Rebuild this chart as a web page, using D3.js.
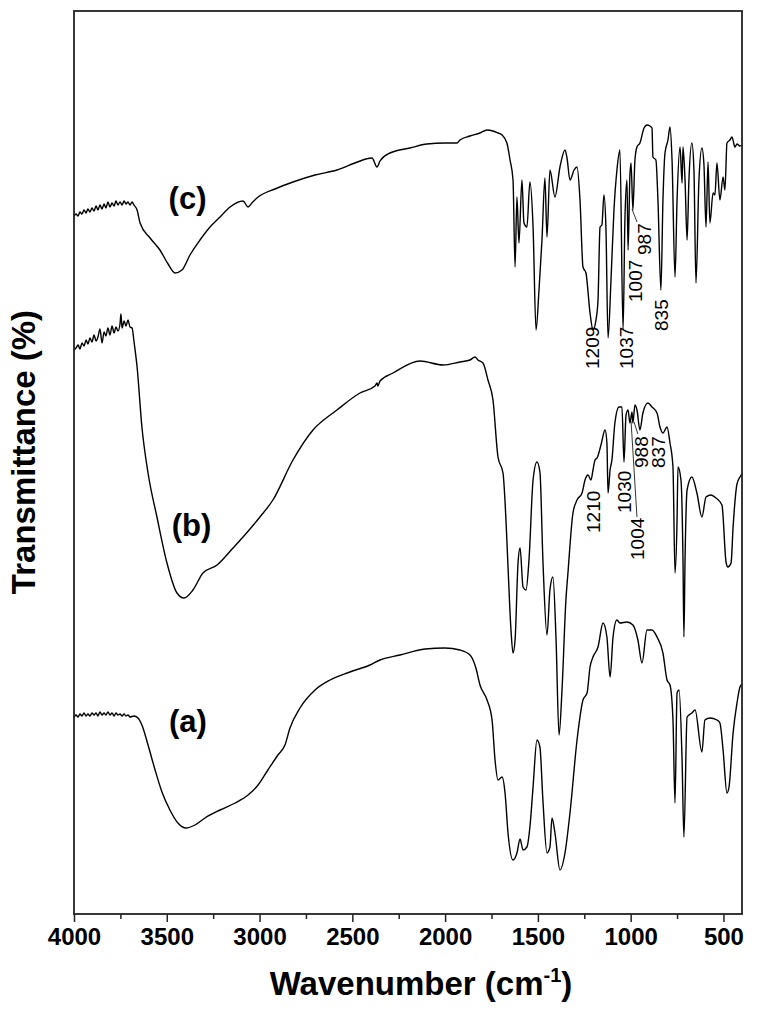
<!DOCTYPE html>
<html>
<head>
<meta charset="utf-8">
<script src="https://cdn.jsdelivr.net/npm/d3@7/dist/d3.min.js"></script>
<style>
	body { margin: 0; background: #fff; }
	text { font-family: "Liberation Sans", Arial, sans-serif; fill: #000; }
</style>
</head>
<body>
<script>
// - data -

var majorTicks = [4000, 3500, 3000, 2500, 2000, 1500, 1000, 500];
var minorTicks = [3750, 3250, 2750, 2250, 1750, 1250, 750];

// [wavenumber (cm-1), transmittance (offset, a.u.)]
var seriesA = [
	[4000,19.7],[3989,19.9],[3978,19.7],[3968,20.0],[3957,19.8],[3946,20.1],[3935,19.8],[3925,20.0],
	[3914,19.8],[3903,20.1],[3892,19.9],[3881,20.1],[3871,19.8],[3860,20.2],[3849,19.9],[3838,20.1],
	[3828,19.9],[3817,20.2],[3806,19.9],[3795,20.1],[3784,19.8],[3774,20.1],[3763,19.9],[3752,20.0],
	[3741,19.8],[3730,20.0],[3720,19.8],[3709,19.9],[3698,19.7],[3677,19.8],[3655,19.6],
	[3634,18.9],[3601,16.9],[3563,14.4],[3526,12.2],
	[3483,10.4],[3440,9.1],[3396,8.6],[3348,8.9],[3294,9.6],[3213,10.4],[3132,11.1],[3062,11.9],
	[3008,12.9],[2955,14.4],[2901,15.9],[2863,16.9],[2836,18.6],[2782,20.6],[2701,22.4],[2620,23.4],
	[2513,24.2],[2405,24.9],[2351,25.4],[2243,25.9],[2108,26.5],[2001,26.6],[1920,26.4],[1866,25.9],
	[1834,24.6],[1812,22.9],[1774,21.4],[1747,19.4],[1731,15.4],[1715,13.4],[1693,13.7],[1677,12.1],
	[1661,8.1],[1634,5.4],[1613,6.1],[1596,7.5],[1580,6.4],[1559,6.7],[1543,8.7],[1526,12.7],
	[1505,17.4],[1489,16.7],[1473,11.4],[1451,6.1],[1435,6.7],[1424,9.6],[1408,8.1],[1381,4.4],
	[1354,6.1],[1327,10.1],[1289,17.4],[1257,21.4],[1235,22.1],[1219,24.7],[1203,25.7],[1176,26.7],
	[1149,29.1],[1128,27.7],[1111,23.7],[1095,27.7],[1074,29.4],[1058,29.1],[1020,29.2],[988,28.9],
	[961,27.4],[939,25.1],[912,28.4],[885,28.4],[858,27.7],[826,26.1],[804,23.4],[788,22.9],
	[772,19.4],[761,11.1],[750,22.1],[739,22.4],[723,15.4],[713,7.7],[696,19.7],[670,20.1],
	[653,20.4],[616,16.2],[600,19.4],[573,19.6],[535,19.4],[519,19.1],[502,16.4],[481,12.1],
	[470,12.7],[448,18.1],[427,21.1],[411,22.7],[400,23.0]
];

var seriesB = [
	[4000,56.4],[3989,56.6],[3978,56.9],[3968,56.5],[3957,57.1],[3946,56.8],[3935,57.4],[3925,57.0],
	[3914,57.6],[3903,57.2],[3892,57.9],[3881,57.3],[3871,57.7],[3860,58.5],[3849,57.1],[3838,58.2],
	[3828,57.8],[3817,58.6],[3806,57.9],[3795,58.8],[3784,58.1],[3774,58.7],[3763,58.3],[3752,59.0],
	[3747,60.0],[3741,58.6],[3730,59.3],[3720,58.8],[3709,59.4],[3698,58.7],[3687,58.6],[3677,57.3],
	[3660,54.7],[3634,48.7],[3601,44.1],[3553,39.7],[3499,35.1],[3445,32.1],[3407,31.6],[3359,32.4],
	[3305,34.1],[3229,34.9],[3143,36.6],[3089,37.7],[2998,39.7],[2928,41.4],[2820,45.4],[2712,48.4],
	[2583,50.4],[2459,52.1],[2378,52.8],[2367,53.1],[2362,52.8],[2351,53.3],[2281,54.1],[2135,55.3],
	[2011,54.9],[1920,55.2],[1866,55.4],[1839,55.7],[1823,55.4],[1796,55.1],[1769,53.4],[1742,51.4],
	[1715,45.7],[1688,44.1],[1672,39.4],[1661,34.7],[1645,28.4],[1634,26.1],[1623,27.4],[1607,35.1],
	[1596,36.6],[1580,32.7],[1564,32.4],[1548,35.4],[1526,43.4],[1505,45.2],[1489,44.2],[1473,35.4],
	[1451,27.9],[1435,32.4],[1419,33.7],[1402,27.4],[1386,17.9],[1370,22.4],[1349,31.4],[1338,34.1],
	[1311,40.1],[1289,41.4],[1262,42.1],[1246,43.4],[1230,43.9],[1214,43.4],[1203,44.4],[1192,45.4],
	[1181,45.6],[1160,46.9],[1138,48.4],[1128,47.1],[1122,42.1],[1111,44.4],[1101,45.4],[1085,49.1],
	[1063,50.7],[1047,50.7],[1036,45.2],[1025,49.9],[1014,50.4],[1004,49.1],[993,50.2],[988,49.1],
	[977,50.9],[966,50.4],[950,48.4],[934,50.1],[907,51.1],[885,50.7],[858,50.1],[842,48.7],
	[826,48.1],[804,48.7],[788,47.1],[772,44.7],[761,34.1],[750,39.4],[745,44.7],[729,43.4],
	[718,35.4],[713,27.7],[707,35.4],[696,42.4],[670,43.7],[643,42.1],[616,39.7],[594,41.7],
	[567,41.9],[540,41.6],[508,40.9],[486,35.2],[476,34.7],[459,35.1],[448,38.7],[427,43.0],
	[411,43.7],[400,44.0]
];

var seriesC = [
	[4000,69.8],[3989,70.0],[3978,69.8],[3968,70.2],[3957,70.0],[3946,70.4],[3935,70.1],[3925,70.5],
	[3914,70.2],[3903,70.6],[3892,70.3],[3881,70.8],[3871,70.4],[3860,70.9],[3849,70.5],[3838,71.0],
	[3828,70.6],[3817,71.2],[3806,70.7],[3795,71.1],[3784,70.8],[3774,71.3],[3763,70.9],[3752,71.2],
	[3741,70.9],[3730,71.3],[3720,71.0],[3709,71.2],[3698,70.9],[3687,71.2],[3677,70.9],
	[3660,70.4],[3644,69.1],[3590,67.6],[3537,66.4],[3493,65.0],[3456,64.1],[3418,64.4],[3375,65.9],
	[3321,67.4],[3267,68.7],[3213,69.7],[3159,70.7],[3089,71.3],[3062,70.7],[3041,71.1],[3014,71.6],
	[2917,72.5],[2820,73.2],[2701,73.9],[2583,74.4],[2486,75.1],[2394,75.6],[2367,74.7],[2351,75.3],
	[2297,76.1],[2189,76.6],[2098,77.0],[2001,77.1],[1936,77.1],[1920,77.4],[1866,77.8],[1812,78.1],
	[1774,78.4],[1742,78.3],[1715,78.1],[1693,77.9],[1667,77.1],[1650,75.4],[1634,73.4],[1623,64.7],
	[1613,71.7],[1602,67.1],[1586,73.4],[1575,69.1],[1559,68.7],[1543,73.2],[1526,68.7],[1510,58.4],
	[1494,62.4],[1478,67.4],[1462,73.6],[1451,67.7],[1435,74.4],[1408,71.7],[1381,74.7],[1354,76.4],
	[1343,75.6],[1327,73.4],[1305,74.4],[1289,74.7],[1273,71.4],[1257,64.7],[1241,64.1],[1219,60.1],
	[1203,58.4],[1187,59.4],[1176,61.4],[1165,68.7],[1155,68.9],[1144,71.9],[1133,68.4],[1122,57.6],
	[1106,63.4],[1090,70.4],[1074,74.4],[1058,76.4],[1041,58.4],[1031,69.4],[1020,73.4],[1014,66.4],
	[1004,73.9],[998,75.1],[988,70.4],[977,75.4],[966,76.7],[950,77.1],[928,78.6],[912,78.9],
	[896,78.8],[885,78.6],[880,75.7],[864,75.4],[853,71.4],[837,62.4],[826,71.4],[815,76.1],
	[799,77.4],[788,78.7],[777,75.4],[761,63.7],[750,71.4],[734,76.7],[723,73.1],[718,76.7],
	[707,73.4],[696,67.4],[686,73.4],[670,77.1],[659,74.4],[648,63.1],[632,73.4],[616,76.6],
	[605,74.9],[594,68.7],[583,75.2],[573,69.1],[556,72.1],[546,71.9],[535,75.1],[519,71.4],
	[502,73.7],[492,72.4],[481,77.1],[465,77.4],[454,77.7],[438,76.7],[427,77.0],[411,76.8],
	[400,76.9]
];

var seriesNames = ['(a)', '(b)', '(c)'];
var peaksB = ['1210', '1030', '1004', '988', '837'];
var peaksC = ['1209', '1037', '1007', '987', '835'];

// - layout (in data units) -

var nameSpots = [[3386, 18.2], [3367, 37.8], [3388, 70.5]];
var peakSpotsB = [[1203, 38.1], [1036, 40.1], [966, 35.4], [942, 44.6], [850, 44.6]];
var peakSpotsC = [[1208, 54.5], [1025, 54.5], [977, 61.2], [926, 65.9], [837, 58.3]];
var leaders = [
	[[966, 69.2], [993, 70.5]],
	[[966, 39.7], [998, 49.3]],
	[[961, 48.0], [982, 49.2]]
];

// - chart -

var width = 762;
var height = 1011;

var svg = d3.select('body').append('svg')
	.attr('width', width)
	.attr('height', height);

var x = d3.scaleLinear().domain([4000, 400]).range([74, 742]);
var y = d3.scaleLinear().domain([0, 90.3]).range([914, 11]);

var line = d3.line()
	.curve(d3.curveMonotoneX)
	.x(function(d) { return x(d[0]); })
	.y(function(d) { return y(d[1]); });

[seriesA, seriesB, seriesC].forEach(function(s) {
	svg.append('path')
		.datum(s)
		.attr('d', line)
		.attr('fill', 'none')
		.attr('stroke', '#000')
		.attr('stroke-width', 1.4)
		.attr('stroke-linejoin', 'round');
});

// frame
svg.append('rect')
	.attr('x', x(4000))
	.attr('y', y(90.3))
	.attr('width', x(400) - x(4000))
	.attr('height', y(0) - y(90.3))
	.attr('fill', 'none')
	.attr('stroke', '#222')
	.attr('stroke-width', 1.8);

// x axis
var gx = svg.append('g')
	.attr('transform', 'translate(0,' + y(0) + ')')
	.call(d3.axisBottom(x).tickValues(majorTicks).tickSize(8).tickSizeOuter(0).tickFormat(d3.format('d')));

gx.select('.domain').remove();
gx.selectAll('line').attr('stroke', '#222').attr('stroke-width', 1.5);
gx.selectAll('text')
	.attr('y', 14)
	.style('font-size', '24px')
	.style('font-weight', 'bold')
	.style('font-family', '"Liberation Sans", Arial, sans-serif');

var gm = svg.append('g')
	.attr('transform', 'translate(0,' + y(0) + ')')
	.call(d3.axisBottom(x).tickValues(minorTicks).tickSize(5).tickSizeOuter(0).tickFormat(''));

gm.select('.domain').remove();
gm.selectAll('line').attr('stroke', '#222').attr('stroke-width', 1.5);

// axis titles
var xt = svg.append('text')
	.attr('x', 421)
	.attr('y', 995)
	.attr('text-anchor', 'middle')
	.style('font-size', '33px')
	.style('font-weight', 'bold')
	.text('Wavenumber (cm');

xt.append('tspan')
	.attr('dy', -13)
	.style('font-size', '20px')
	.text('-1');

xt.append('tspan')
	.attr('dy', 13)
	.text(')');

svg.append('text')
	.attr('transform', 'translate(35,452) rotate(-90)')
	.attr('text-anchor', 'middle')
	.style('font-size', '33px')
	.style('font-weight', 'bold')
	.text('Transmittance (%)');

// series names
svg.selectAll('.name')
	.data(seriesNames).enter()
	.append('text')
		.attr('class', 'name')
		.attr('x', function(d, i) { return x(nameSpots[i][0]); })
		.attr('y', function(d, i) { return y(nameSpots[i][1]); })
		.attr('text-anchor', 'middle')
		.style('font-size', '31px')
		.style('font-weight', 'bold')
		.text(function(d) { return d; });

// peak labels
function drawPeaks(labels, spots) {
	svg.selectAll(null)
		.data(labels).enter()
		.append('text')
			.attr('transform', function(d, i) {
				return 'translate(' + x(spots[i][0]) + ',' + y(spots[i][1]) + ') rotate(-90)';
			})
			.attr('dy', '0.36em')
			.style('font-size', '19px')
			.text(function(d) { return d; });
}

drawPeaks(peaksC, peakSpotsC);
drawPeaks(peaksB, peakSpotsB);

svg.selectAll('.leader')
	.data(leaders).enter()
	.append('line')
		.attr('class', 'leader')
		.attr('x1', function(d) { return x(d[0][0]); })
		.attr('y1', function(d) { return y(d[0][1]); })
		.attr('x2', function(d) { return x(d[1][0]); })
		.attr('y2', function(d) { return y(d[1][1]); })
		.attr('stroke', '#000')
		.attr('stroke-width', 0.8);
</script>
</body>
</html>
